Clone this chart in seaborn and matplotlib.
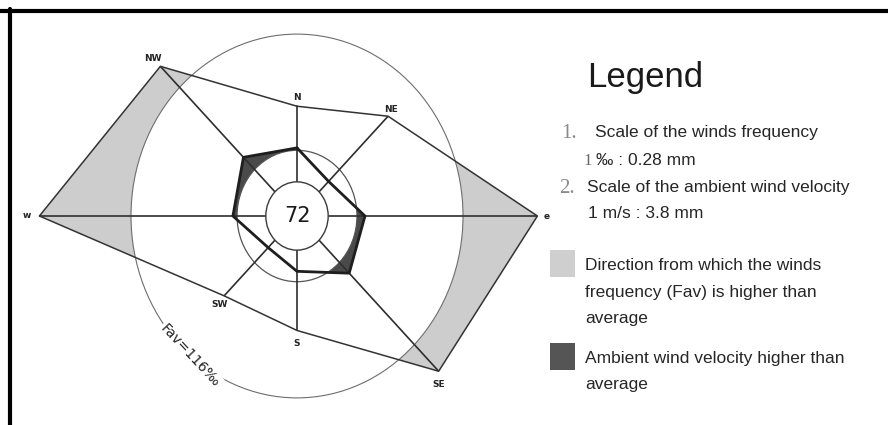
import numpy as np
import matplotlib
matplotlib.use("Agg")
import matplotlib.pyplot as plt
import seaborn as sns
import pandas as pd
from matplotlib.patches import Circle, Rectangle
from matplotlib.lines import Line2D
from matplotlib import font_manager

# ---------------- data ----------------
directions = ["N", "NE", "E", "SE", "S", "SW", "W", "NW"]
angles_deg = [90, 45, 0, -45, -90, -135, 180, 135]
frequency_permille = [70, 90, 168, 140, 73, 72, 180, 135]   # wind frequency per direction (‰)
velocity_ms = [3.2, 2.3, 3.5, 3.8, 2.6, 2.1, 3.3, 3.9]        # ambient wind velocity (m/s)
calm_permille = 72
direction_labels = ["N", "NE", "e", "SE", "S", "SW", "w", "NW"]
freq_scale_mm = 0.28   # 1 ‰ : 0.28 mm
vel_scale_mm = 3.8     # 1 m/s : 3.8 mm

legend_title = "Legend"
legend_items = [
    ("1.", "Scale of the winds frequency", "1", "‰ : 0.28 mm"),
    ("2.", "Scale of the ambient wind velocity", None, "1 m/s : 3.8 mm"),
]
legend_fill_texts = [
    ["Direction from which the winds", "frequency (Fav) is higher than", "average"],
    ["Ambient wind velocity higher than", "average"],
]

# ---------------- styling ----------------
sns.set_theme(style="white")
names = {f.name for f in font_manager.fontManager.ttflist}
SANS = "Liberation Sans Narrow" if "Liberation Sans Narrow" in names else "Liberation Sans"
SERIF = "Liberation Serif"
plt.rcParams["font.family"] = ["DejaVu Sans"]

W, H = 888, 425
fig = plt.figure(figsize=(W / 100, H / 100), dpi=100)
fig.patch.set_facecolor("white")


def fpx(x, y):
    return x / W, 1 - y / H


# rose axes (mm units, scanned drawing slightly stretched vertically)
ax = fig.add_axes([0, 0, 1, 1])
ax.set_facecolor("none")
cx, cy = 297, 216
sx, sy = 5.111, 5.60
ax.set_xlim(-cx / sx, (W - cx) / sx)
ax.set_ylim(-(H - cy) / sy, cy / sy)
ax.axis("off")

df = pd.DataFrame({
    "dir": directions,
    "ang": np.deg2rad(angles_deg),
    "freq": frequency_permille,
    "vel": velocity_ms,
    "label": direction_labels,
})
df["rf"] = df["freq"] * freq_scale_mm
df["rv"] = df["vel"] * vel_scale_mm
df["fx"] = df["rf"] * np.cos(df["ang"])
df["fy"] = df["rf"] * np.sin(df["ang"])
df["vx"] = df["rv"] * np.cos(df["ang"])
df["vy"] = df["rv"] * np.sin(df["ang"])

fav = float(np.mean(frequency_permille))
vav = float(np.mean(velocity_ms))
r_fav = fav * freq_scale_mm
r_vav = vav * vel_scale_mm
r_calm = 6.1

closed = pd.concat([df, df.iloc[[0]]], ignore_index=True)

# shaded regions
ax.fill(df["fx"], df["fy"], color="#cdcdcd", lw=0, zorder=1)
ax.add_patch(Circle((0, 0), r_fav, facecolor="white", edgecolor="none", zorder=2))
ax.fill(df["vx"], df["vy"], color="#4a4a4a", lw=0, zorder=3)
ax.add_patch(Circle((0, 0), r_vav, facecolor="white", edgecolor="none", zorder=4))

# circles
ax.add_patch(Circle((0, 0), r_fav, facecolor="none", edgecolor="#6e6e6e", lw=0.8, zorder=5))
ax.add_patch(Circle((0, 0), r_vav, facecolor="none", edgecolor="#555555", lw=0.9, zorder=5))

# rays
for _, row in df.iterrows():
    ax.plot([r_calm * np.cos(row["ang"]), row["fx"]],
            [r_calm * np.sin(row["ang"]), row["fy"]],
            color="#2e2e2e", lw=1.2, zorder=6, solid_capstyle="butt")

ax.add_patch(Circle((0, 0), r_calm, facecolor="white", edgecolor="#3a3a3a", lw=1.0, zorder=7))

# polygons
sns.lineplot(data=closed, x="fx", y="fy", sort=False, estimator=None, ax=ax,
             color="#333333", lw=1.1, zorder=8, legend=False)
sns.lineplot(data=closed, x="vx", y="vy", sort=False, estimator=None, ax=ax,
             color="#1e1e1e", lw=2.0, zorder=9, legend=False)

# direction labels
label_offsets = {"N": (0, 9), "NE": (3, 7), "E": (9, -1), "SE": (0, -13),
                 "S": (0, -13), "SW": (-5, -9), "W": (-13, 0), "NW": (-8, 8)}
for _, row in df.iterrows():
    ax.annotate(row["label"], xy=(row["fx"], row["fy"]), xytext=label_offsets[row["dir"]],
                textcoords="offset pixels", ha="center", va="center",
                fontsize=6.5, fontweight="bold", color="#222222", zorder=10)

# calm value
ax.text(0, 0, f"{calm_permille}", ha="center", va="center", fontsize=15,
        color="#1a1a1a", zorder=10)

# Fav label along the circle
ang_t = np.deg2rad(230)
ax.text(r_fav * np.cos(ang_t), r_fav * np.sin(ang_t), f"Fav={fav:.0f}‰",
        ha="center", va="center", rotation=-47, rotation_mode="anchor",
        fontsize=10, color="#222222", zorder=10,
        bbox=dict(facecolor="white", edgecolor="none", pad=1.0))

# ---------------- legend ----------------
txtc = "#262626"
fig.text(*fpx(587, 87), legend_title, fontsize=25, family=[SANS], color="#1a1a1a", va="baseline")

body_fs = 12.5
num_fs = 15
(n1, t1, u1a, u1b), (n2, t2, _, u2) = legend_items
fig.text(*fpx(561, 138), n1, fontsize=num_fs, family=[SERIF], color="#8a8a8a", va="baseline")
fig.text(*fpx(595, 137), t1, fontsize=body_fs, family=[SANS], color=txtc, va="baseline")
fig.text(*fpx(583, 165), u1a, fontsize=12, family=[SERIF], color="#666666", va="baseline")
fig.text(*fpx(596, 165), u1b, fontsize=body_fs, family=[SANS, "DejaVu Sans"], color=txtc, va="baseline")
fig.text(*fpx(559, 193), n2, fontsize=num_fs, family=[SERIF], color="#8a8a8a", va="baseline")
fig.text(*fpx(587, 192), t2, fontsize=body_fs, family=[SANS], color=txtc, va="baseline")
fig.text(*fpx(588, 218), u2, fontsize=body_fs, family=[SANS], color=txtc, va="baseline")

swatch_colors = ["#cfcfcf", "#555555"]
swatch_tops = [250, 343]
for color, top, lines in zip(swatch_colors, swatch_tops, legend_fill_texts):
    x0, y0 = fpx(550, top + 27)
    fig.add_artist(Rectangle((x0, y0), 25 / W, 27 / H, transform=fig.transFigure,
                             facecolor=color, edgecolor="none"))
    for i, line in enumerate(lines):
        fig.text(*fpx(585, top + 20 + 26.5 * i), line, fontsize=body_fs, family=[SANS],
                 color=txtc, va="baseline")

# frame (top and left)
fig.add_artist(Line2D([0, 1], [1 - 11 / H, 1 - 11 / H], transform=fig.transFigure,
                      color="black", lw=3.0))
fig.add_artist(Line2D([9.5 / W, 9.5 / W], [0, 1 - 9 / H], transform=fig.transFigure,
                      color="black", lw=3.0))

fig.savefig("out.png", dpi=100)
